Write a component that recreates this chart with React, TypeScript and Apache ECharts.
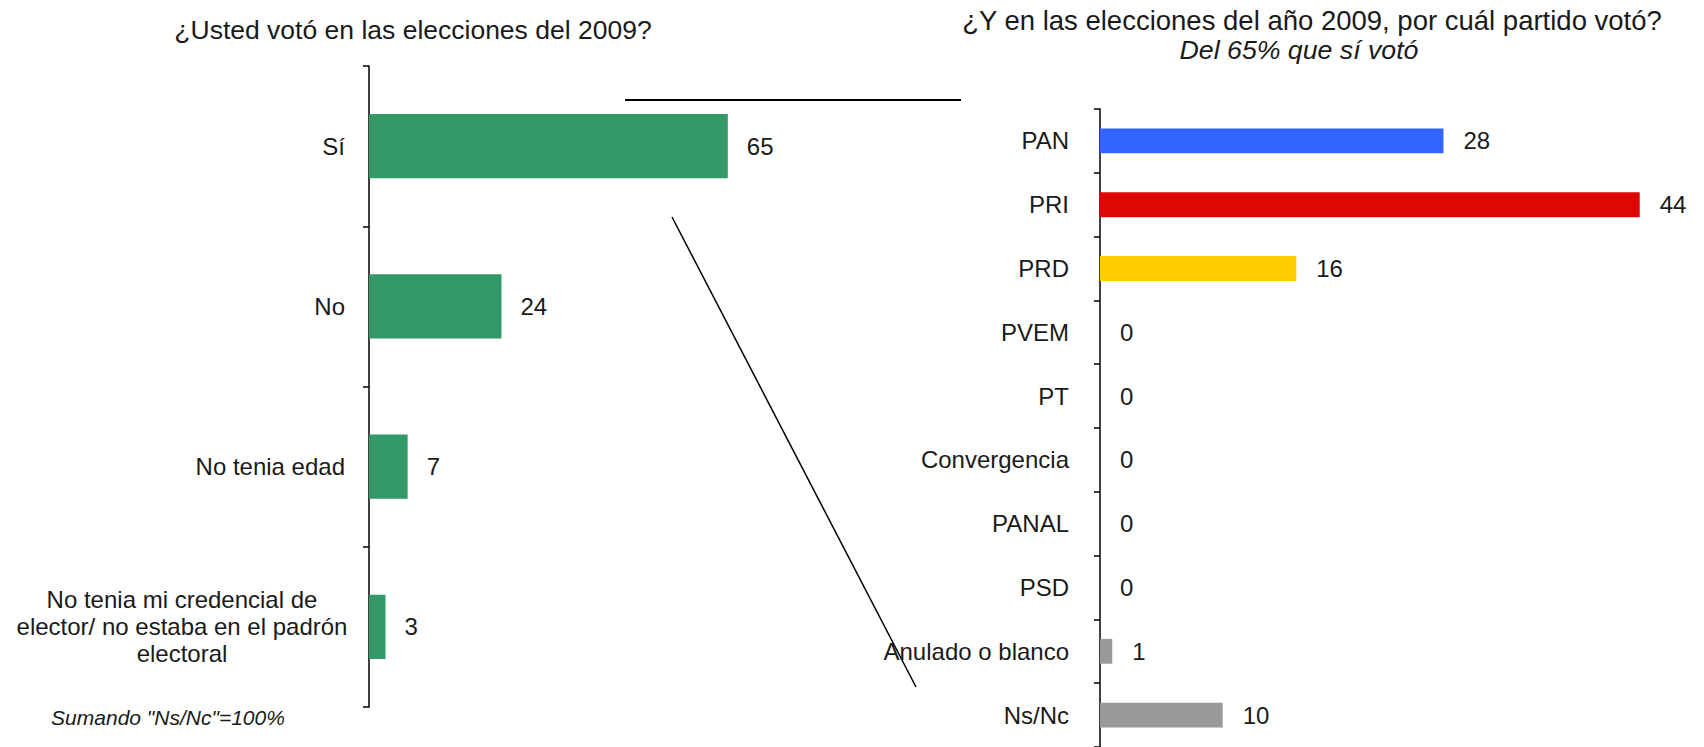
import React, { useEffect, useRef } from "react";
import * as echarts from "echarts";

const leftCategories = [
  "Sí",
  "No",
  "No tenia edad",
  "No tenia mi credencial de\nelector/ no estaba en el padrón\nelectoral",
];
const leftValues = [65, 24, 7, 3];

const rightCategories = [
  "PAN",
  "PRI",
  "PRD",
  "PVEM",
  "PT",
  "Convergencia",
  "PANAL",
  "PSD",
  "Anulado o blanco",
  "Ns/Nc",
];
const rightValues = [28, 44, 16, 0, 0, 0, 0, 0, 1, 10];
const rightColors = [
  "#3366FF",
  "#DD0806",
  "#FFCC00",
  "#999999",
  "#999999",
  "#999999",
  "#999999",
  "#999999",
  "#999999",
  "#999999",
];

const leftTitle = "¿Usted votó en las elecciones del 2009?";
const rightTitle = "¿Y en las elecciones del año 2009, por cuál partido votó?";
const rightSubtitle = "Del 65% que sí votó";
const footnote = 'Sumando "Ns/Nc"=100%';

const FONT = "Arial, 'Liberation Sans', Helvetica, sans-serif";
const TXT = "#1a1a1a";

export default function App() {
  const ref = useRef<HTMLDivElement>(null);
  useEffect(() => {
    document.body.style.margin = "0";
    if (!ref.current) return;
    const chart = echarts.init(ref.current, undefined, { renderer: "svg" });
    const axisCommon = {
      type: "category" as const,
      inverse: true,
      axisLine: { show: true, lineStyle: { color: "#000", width: 1.5 } },
      axisTick: { show: true, length: 6, lineStyle: { color: "#000", width: 1.5 } },
      splitLine: { show: false },
    };
    chart.setOption({
      animation: false,
      backgroundColor: "#fff",
      grid: [
        { left: 369, top: 66, width: 552, height: 641 },
        { left: 1100, top: 109, width: 552, height: 640 },
      ],
      xAxis: [
        { type: "value", gridIndex: 0, min: 0, max: 100, show: false },
        { type: "value", gridIndex: 1, min: 0, max: 45, show: false },
      ],
      yAxis: [
        {
          ...axisCommon,
          gridIndex: 0,
          data: leftCategories,
          axisLabel: {
            margin: 24,
            fontSize: 24,
            fontFamily: FONT,
            color: TXT,
            lineHeight: 27,
            formatter: (v: string) =>
              v.includes("\n")
                ? v
                    .split("\n")
                    .map((l) => `{c|${l}}`)
                    .join("\n")
                : v,
            rich: {
              c: {
                width: 326,
                align: "center",
                fontSize: 24,
                fontFamily: FONT,
                color: TXT,
                lineHeight: 27,
              },
            },
          },
        },
        {
          ...axisCommon,
          gridIndex: 1,
          data: rightCategories,
          axisLabel: {
            margin: 31,
            fontSize: 24,
            fontFamily: FONT,
            color: TXT,
          },
        },
      ],
      series: [
        {
          type: "bar",
          xAxisIndex: 0,
          yAxisIndex: 0,
          data: leftValues,
          barCategoryGap: "60%",
          itemStyle: { color: "#339966" },
          label: {
            show: true,
            position: "right",
            distance: 19,
            fontSize: 24,
            fontFamily: FONT,
            color: TXT,
          },
        },
        {
          type: "bar",
          xAxisIndex: 1,
          yAxisIndex: 1,
          data: rightValues.map((v, i) => ({
            value: v,
            itemStyle: { color: rightColors[i] },
          })),
          barCategoryGap: "61%",
          label: {
            show: true,
            position: "right",
            distance: 20,
            fontSize: 24,
            fontFamily: FONT,
            color: TXT,
          },
        },
      ],
      graphic: [
        {
          type: "text",
          x: 413,
          y: 30,
          style: {
            text: leftTitle,
            fontSize: 26.5,
            fontFamily: FONT,
            fill: TXT,
            align: "center",
            verticalAlign: "middle",
          },
        },
        {
          type: "text",
          x: 1312,
          y: 20,
          style: {
            text: rightTitle,
            fontSize: 27.5,
            fontFamily: FONT,
            fill: TXT,
            align: "center",
            verticalAlign: "middle",
          },
        },
        {
          type: "text",
          x: 1299,
          y: 50,
          style: {
            text: rightSubtitle,
            fontSize: 26.7,
            fontStyle: "italic",
            fontFamily: FONT,
            fill: TXT,
            align: "center",
            verticalAlign: "middle",
          },
        },
        {
          type: "text",
          x: 168,
          y: 717,
          style: {
            text: footnote,
            fontSize: 21,
            fontStyle: "italic",
            fontFamily: FONT,
            fill: TXT,
            align: "center",
            verticalAlign: "middle",
          },
        },
        {
          type: "line",
          shape: { x1: 625, y1: 100, x2: 961, y2: 100 },
          style: { stroke: "#000", lineWidth: 2 },
        },
        {
          type: "line",
          shape: { x1: 672, y1: 217, x2: 916, y2: 687 },
          style: { stroke: "#000", lineWidth: 1.5 },
        },
      ],
    });
    return () => chart.dispose();
  }, []);
  return <div ref={ref} style={{ width: 1704, height: 747 }} />;
}
